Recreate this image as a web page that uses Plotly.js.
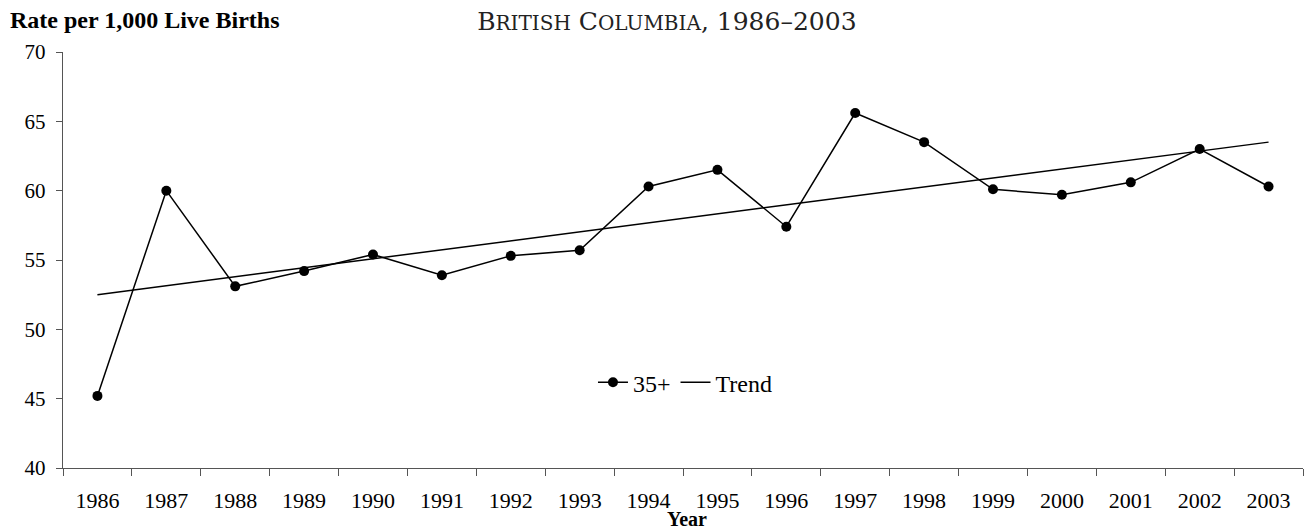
<!DOCTYPE html>
<html>
<head>
<meta charset="utf-8">
<script src="https://cdn.plot.ly/plotly-3.0.1.min.js"></script>
<style>html,body{margin:0;padding:0;background:#fff;}#chart{width:1305px;height:529px;}</style>
</head>
<body>
<div id="chart"></div>
<script>
const years = ["1986","1987","1988","1989","1990","1991","1992","1993","1994","1995","1996","1997","1998","1999","2000","2001","2002","2003"];
const rate35 = [45.2, 60.0, 53.1, 54.2, 55.4, 53.9, 55.3, 55.7, 60.3, 61.5, 57.4, 65.6, 63.5, 60.1, 59.7, 60.6, 63.0, 60.3];
const trendYears = ["1986", "2003"];
const trendVals = [52.5, 63.5];
const yTicks = [40, 45, 50, 55, 60, 65, 70];

const serif = "Liberation Serif, Times New Roman, serif";
const sc = (s) => '<span style="font-size:20px">' + s + '</span>';

const traces = [
  {
    x: years, y: rate35, name: "35+", type: "scatter", mode: "lines+markers",
    line: {color: "#000", width: 1.5},
    marker: {color: "#000", size: 10, symbol: "circle"}
  },
  {
    x: trendYears, y: trendVals, name: "Trend", type: "scatter", mode: "lines",
    line: {color: "#000", width: 1.5}
  }
];

const layout = {
  width: 1305, height: 529,
  margin: {l: 63, r: 2, t: 52, b: 61},
  paper_bgcolor: "#fff", plot_bgcolor: "#fff",
  font: {family: serif, size: 18, color: "#000"},
  showlegend: true,
  legend: {
    orientation: "h", x: 0.502, xanchor: "center", y: 0.205, yanchor: "middle",
    font: {family: serif, size: 24, color: "#000"},
    bgcolor: "rgba(0,0,0,0)", itemwidth: 30, traceorder: "normal"
  },
  title: {
    text: "B" + sc("RITISH") + " C" + sc("OLUMBIA") + ", 1986–2003",
    x: 0.511, xanchor: "center", y: 0.96, yanchor: "middle",
    font: {family: "DejaVu Serif, serif", size: 25, color: "#222"}
  },
  xaxis: {
    type: "category", categoryorder: "array", categoryarray: years,
    range: [-0.5, 17.5],
    tickson: "boundaries", ticks: "outside", ticklen: 7, tickcolor: "#555", tickwidth: 1,
    showline: true, linecolor: "#555", linewidth: 1.2,
    showgrid: false, zeroline: false,
    ticklabelstandoff: 12,
    tickfont: {family: serif, size: 22, color: "#000"}
  },
  yaxis: {
    range: [40, 70], tickvals: yTicks, ticktext: yTicks.map(String),
    ticks: "outside", ticklen: 6, tickcolor: "#555", tickwidth: 1,
    showline: true, linecolor: "#555", linewidth: 1.2,
    showgrid: false, zeroline: false,
    ticklabelstandoff: 6,
    tickfont: {family: serif, size: 21, color: "#000"}
  },
  annotations: [
    {
      text: "<b>Rate per 1,000 Live Births</b>", xref: "paper", yref: "paper",
      x: -0.0445, xanchor: "left", y: 1.077, yanchor: "middle", showarrow: false,
      font: {family: serif, size: 24, color: "#000"}
    },
    {
      text: "<b>Year</b>", xref: "paper", yref: "paper",
      x: 0.503, xanchor: "center", y: -0.122, yanchor: "middle", showarrow: false,
      font: {family: serif, size: 20, color: "#000"}
    }
  ]
};

Plotly.newPlot("chart", traces, layout, {displayModeBar: false, staticPlot: true});
</script>
</body>
</html>
